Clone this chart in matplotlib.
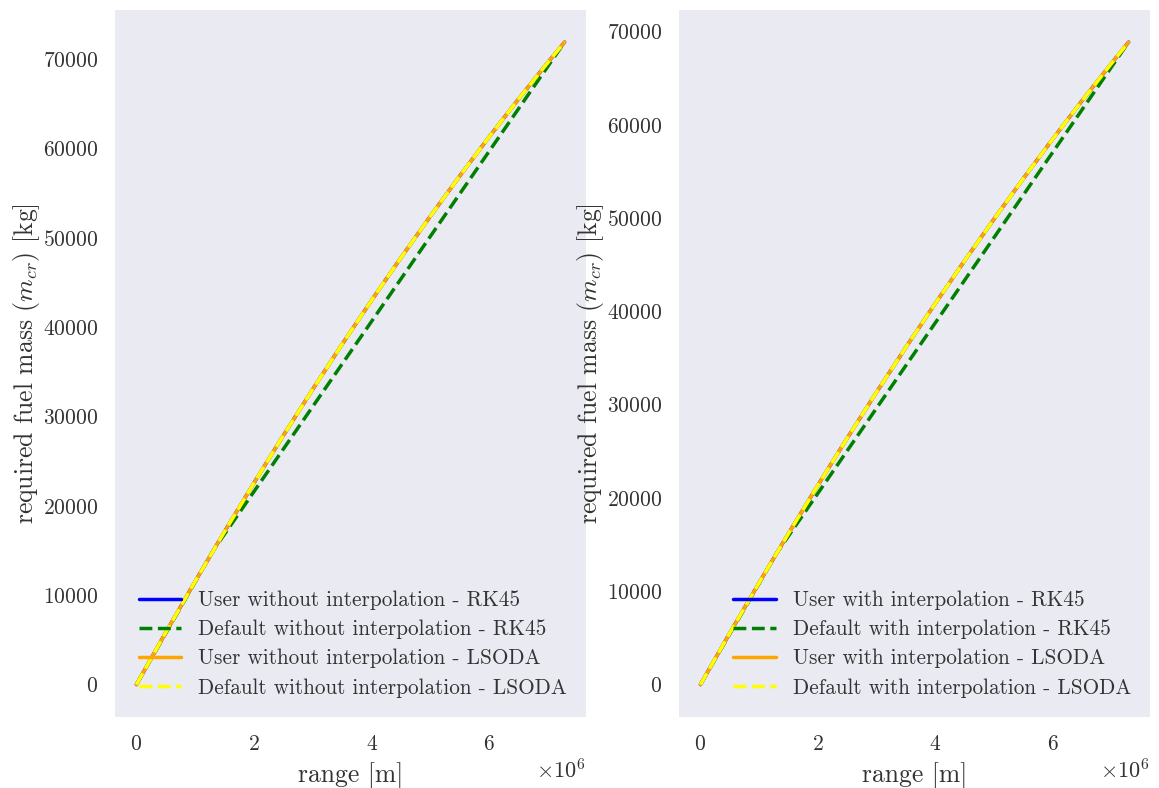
import matplotlib
matplotlib.use("Agg")
import matplotlib.pyplot as plt
import numpy as np

# ---- data (range in m, fuel mass in kg) ----
range_left = [0, 0.5e6, 1.0e6, 1.5e6, 2.0e6, 2.5e6, 3.0e6, 3.5e6, 4.0e6, 4.5e6,
              5.0e6, 5.5e6, 6.0e6, 6.5e6, 7.0e6, 7.28e6]
user_left = [0, 5848, 11562, 17142, 22588, 27900, 33078, 38122, 43032, 47808,
             52450, 56958, 61332, 65572, 69678, 71919]
default_rk45_left_x = [0, 1.3e6, 7.28e6]
default_rk45_left_y = [0, 14950, 71919]

range_right = [0, 0.5e6, 1.0e6, 1.5e6, 2.0e6, 2.5e6, 3.0e6, 3.5e6, 4.0e6, 4.5e6,
               5.0e6, 5.5e6, 6.0e6, 6.5e6, 7.0e6, 7.29e6]
user_right = [0, 5518, 10918, 16202, 21368, 26418, 31350, 36166, 40864, 45446,
              49910, 54258, 58488, 62602, 66598, 68862]
default_rk45_right_x = [0, 1.3e6, 7.29e6]
default_rk45_right_y = [0, 14100, 68862]

labels_left = ["User without interpolation - RK45",
               "Default without interpolation - RK45",
               "User without interpolation - LSODA",
               "Default without interpolation - LSODA"]
labels_right = ["User with interpolation - RK45",
                "Default with interpolation - RK45",
                "User with interpolation - LSODA",
                "Default with interpolation - LSODA"]

plt.rcParams["font.family"] = "cmr10"
plt.rcParams["mathtext.fontset"] = "cm"
plt.rcParams["axes.formatter.use_mathtext"] = True
plt.rcParams["axes.unicode_minus"] = False

W, H = 1159, 788
fig = plt.figure(figsize=(W / 100, H / 100), dpi=100)
ax1 = fig.add_axes([115 / W, (H - 716.7) / H, 471 / W, 706.7 / H])
ax2 = fig.add_axes([679 / W, (H - 716.7) / H, 471 / W, 706.7 / H])

text_color = "#333333"
lw = 2.5

def draw(ax, xs, ys, gx, gy, labels):
    ax.set_facecolor("#EAEAF2")
    for s in ax.spines.values():
        s.set_visible(False)
    ax.plot(xs, ys, color="blue", lw=lw, label=labels[0], solid_capstyle="round")
    ax.plot(gx, gy, color="green", lw=lw, ls="--", label=labels[1])
    ax.plot(xs, ys, color="orange", lw=lw, label=labels[2], solid_capstyle="round")
    ax.plot(xs, ys, color="yellow", lw=lw, ls="--", label=labels[3])
    ax.tick_params(axis="both", length=0, labelsize=15.5, colors=text_color)
    ax.tick_params(axis="x", pad=13)
    ax.tick_params(axis="y", pad=12)
    ax.set_xlabel("range [m]", fontsize=18.5, color=text_color, labelpad=6)
    ax.set_ylabel(r"required fuel mass $(m_{cr})$ [kg]", fontsize=18.5, color=text_color, labelpad=1)
    ax.xaxis.get_offset_text().set_fontsize(16)
    ax.xaxis.get_offset_text().set_color(text_color)
    ax.legend(loc="lower right", frameon=False, fontsize=15.3, labelcolor=text_color,
              handletextpad=0.8, handlelength=2.0, borderaxespad=0.5, labelspacing=0.45)

draw(ax1, range_left, user_left, default_rk45_left_x, default_rk45_left_y, labels_left)
draw(ax2, range_right, user_right, default_rk45_right_x, default_rk45_right_y, labels_right)
ax2.set_yticks([0, 10000, 20000, 30000, 40000, 50000, 60000, 70000])

fig.savefig("out.png", dpi=100)
